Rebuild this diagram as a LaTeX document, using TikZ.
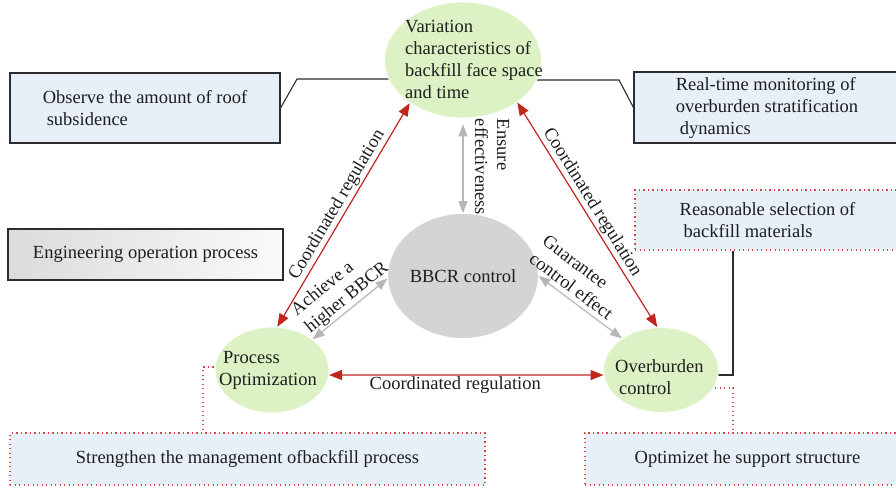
\documentclass[tikz,border=0pt]{standalone}
\usepackage{fontspec}
\setmainfont{Liberation Serif}
\usetikzlibrary{shapes.geometric,arrows.meta,backgrounds}
\definecolor{egreen}{RGB}{221,242,196}
\definecolor{egray}{RGB}{212,212,212}
\definecolor{bfill}{RGB}{231,239,249}
\definecolor{ared}{RGB}{192,38,30}
\definecolor{agray}{RGB}{182,182,182}
\definecolor{bline}{RGB}{45,45,45}
\definecolor{rdot}{RGB}{215,70,70}
\definecolor{tcol}{RGB}{30,30,30}
\begin{document}
\begin{tikzpicture}[x=1pt,y=-1pt,
  fnt/.style={font=\fontsize{18.5}{22}\selectfont, text=tcol},
  txt/.style={fnt, align=left, inner sep=0pt},
  ell/.style={ellipse, inner sep=0pt, draw=white, line width=0.8pt},
  bluebox/.style={rectangle, draw=bline, line width=1.1pt, fill=bfill, inner sep=0pt, fnt, align=left},
  dotbox/.style={rectangle, draw=rdot, line width=1.2pt, dash pattern=on 1.2pt off 3.3pt, fill=bfill, inner sep=0pt, fnt, align=left},
  redarr/.style={draw=ared, line width=1.2pt, {Triangle[length=13pt,width=10pt]}-{Triangle[length=13pt,width=10pt]}},
  grayarr/.style={draw=agray, line width=1.2pt, {Triangle[length=12pt,width=9pt]}-{Triangle[length=12pt,width=9pt]}},
  conn/.style={draw=bline, line width=1.1pt},
  rconn/.style={draw=rdot, line width=1.2pt, dash pattern=on 1.2pt off 3.3pt},
  lab/.style={fnt, align=left, inner sep=1.5pt}
]
\useasboundingbox (0,0) rectangle (896,489);

% ellipses
\node[ell, fill=egreen, minimum width=157pt, minimum height=116pt] (var) at (463,60) {};
\node[txt, anchor=west] (vart) at (405,59) {Variation\\characteristics of\\backfill face space\\and time};
\node[ell, fill=egray, minimum width=148pt, minimum height=125pt, fnt] (bb) at (463,276) {BBCR control};
\node[ell, fill=egreen, minimum width=114pt, minimum height=86pt] (po) at (272,370) {};
\node[txt, anchor=west] (pot) at (219,370) {\hspace{4pt}Process\\Optimization};
\node[ell, fill=egreen, minimum width=115pt, minimum height=85pt] (ob) at (661,370) {};
\node[txt, anchor=west] (obt) at (615,377) {Overburden\\\hspace{4pt}control};

% boxes
\node[bluebox, minimum width=270pt, minimum height=70pt] (obs) at (145,108) {Observe the amount of roof\\\hspace{4pt}subsidence};
\node[bluebox, minimum width=266pt, minimum height=71pt] (rtm) at (767,107.5) {Real-time monitoring of\\overburden stratification\\\hspace{4pt}dynamics};
\node[rectangle, draw=bline, line width=1.1pt, left color=gray!28, right color=gray!4, inner sep=0pt, fnt, minimum width=275pt, minimum height=51pt] (eng) at (145.5,254.5) {Engineering operation process};
\node[dotbox, minimum width=265pt, minimum height=60pt] (rsb) at (767.5,220) {Reasonable selection of\\\hspace{4pt}backfill materials};
\node[dotbox, minimum width=475pt, minimum height=52pt] (smb) at (247.5,459) {Strengthen the management ofbackfill process};
\node[dotbox, minimum width=325pt, minimum height=52pt] (osb) at (747.5,459) {Optimizet he support structure};

% connectors behind
\begin{scope}[on background layer]
\coordinate (k1) at (297,79);
\draw[conn] (obs.east) -- (k1) -- (k1 -| var.center);
\coordinate (k2) at (619,80);
\draw[conn] (k2 -| var.center) -- (k2) -- (rtm.west);
\coordinate (k3) at (733,375);
\draw[conn] (k3 |- rsb.south) -- (k3) -- (k3 -| ob.center);
\coordinate (d1) at (203,367);
\draw[rconn] (d1 -| po.center) -- (d1) -- (d1 |- smb.north);
\coordinate (d2) at (733,388);
\draw[rconn] (d2 -| ob.center) -- (d2) -- (d2 |- osb.north);
\end{scope}

% red arrows
\draw[redarr] (po.83) -- node[lab, sloped, above, pos=0.52]{Coordinated regulation} (var.219);
\draw[redarr] (var.322) -- node[lab, sloped, above, pos=0.47]{Coordinated regulation} (ob.95);
\draw[redarr] (po.-5) -- node[lab, below, pos=0.46]{Coordinated regulation} (ob.185);

% gray arrows
\draw[grayarr, shorten <=6pt] (var.south) -- (bb.north);
\node[lab, rotate=-90, inner sep=0pt] (ens) at (492,167) {Ensure\\effectiveness};
\draw[grayarr] (po.37) -- node[lab, sloped, above, pos=0.55]{Achieve a\\higher BBCR} (bb.182);
\draw[grayarr] (bb.0) -- node[lab, sloped, above=3pt, pos=0.31]{Guarantee\\control effect} (ob.141);
\end{tikzpicture}
\end{document}
